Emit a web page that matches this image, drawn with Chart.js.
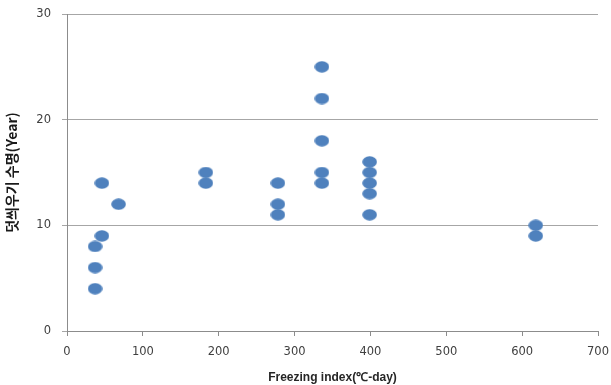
<!DOCTYPE html>
<html>
<head>
<meta charset="utf-8">
<script src="https://cdn.jsdelivr.net/npm/chart.js@4.4.1/dist/chart.umd.min.js"></script>
<style>
  html, body { margin: 0; padding: 0; background: #fff; }
  #wrap { width: 611px; height: 385px; }
</style>
</head>
<body>
<div id="wrap"><canvas id="chart" width="611" height="385"></canvas></div>
<script>
// freezing index (x) and overlay life in years (y)
var freezingIndex = [37, 37, 37, 46, 46, 68, 183, 183, 278, 278, 278, 336, 336, 336, 336, 336, 399, 399, 399, 399, 399, 618, 618];
var lifeYears     = [4, 6, 8, 9, 14, 12, 14, 15, 11, 12, 14, 14, 15, 18, 22, 25, 11, 13, 14, 15, 16, 9, 10];
var xTicks = [0, 100, 200, 300, 400, 500, 600, 700];
var yTicks = [0, 10, 20, 30];

var points = freezingIndex.map(function (x, i) { return {x: x, y: lifeYears[i]}; });

// oval marker like the original excel dots
var dot = document.createElement('canvas');
dot.width = 15; dot.height = 12;
var dctx = dot.getContext('2d');
dctx.fillStyle = '#4F81BD';
dctx.beginPath();
dctx.ellipse(7.5, 6, 7.3, 5.8, 0, 0, Math.PI * 2);
dctx.fill();

var axisGray = '#8c8c8c';
var tickFont = {family: 'DejaVu Sans', size: 11.5};

// the tick padding would otherwise push the plot area in, layout padding handles the edges
function noOverhang(s) {
  s.paddingLeft = 0; s.paddingRight = 0; s.paddingTop = 0; s.paddingBottom = 0;
}

var ctx = document.getElementById('chart').getContext('2d');
new Chart(ctx, {
  type: 'scatter',
  data: {
    datasets: [{
      data: points,
      pointStyle: dot,
      pointRadius: 7,
      pointHoverRadius: 7,
      borderWidth: 0,
      backgroundColor: '#4F81BD',
      borderColor: '#4F81BD'
    }]
  },
  options: {
    responsive: false,
    animation: false,
    layout: {padding: {top: 14, right: 13, left: 0, bottom: 0}},
    plugins: {legend: {display: false}, tooltip: {enabled: false}},
    scales: {
      x: {
        type: 'linear',
        min: 0, max: 700,
        afterBuildTicks: function (s) { s.ticks = xTicks.map(function (v) { return {value: v}; }); },
        grid: {drawOnChartArea: false, drawTicks: true, tickLength: 5, color: axisGray},
        border: {color: axisGray, width: 1},
        ticks: {color: '#404040', font: tickFont, padding: 9, maxRotation: 0},
        title: {display: true, text: 'Freezing index(\u2103-day)', color: '#262626',
                font: {family: 'Liberation Sans', size: 12, weight: 'bold'}, padding: {top: 1, bottom: 0}},
        afterFit: function (s) { s.height = 54; noOverhang(s); }
      },
      y: {
        type: 'linear',
        min: 0, max: 30,
        afterBuildTicks: function (s) { s.ticks = yTicks.map(function (v) { return {value: v}; }); },
        grid: {drawOnChartArea: true, drawTicks: true, tickLength: 5, color: '#a6a6a6'},
        border: {color: axisGray, width: 1},
        ticks: {color: '#404040', font: tickFont, padding: 11},
        title: {display: true, text: '덧씌우기 수명(Year)', color: '#1a1a1a',
                font: {family: 'Noto Sans CJK KR', size: 14, weight: 'bold'}, padding: {top: 3, bottom: 0}},
        afterFit: function (s) { s.width = 67; noOverhang(s); }
      }
    }
  }
});
</script>
</body>
</html>
